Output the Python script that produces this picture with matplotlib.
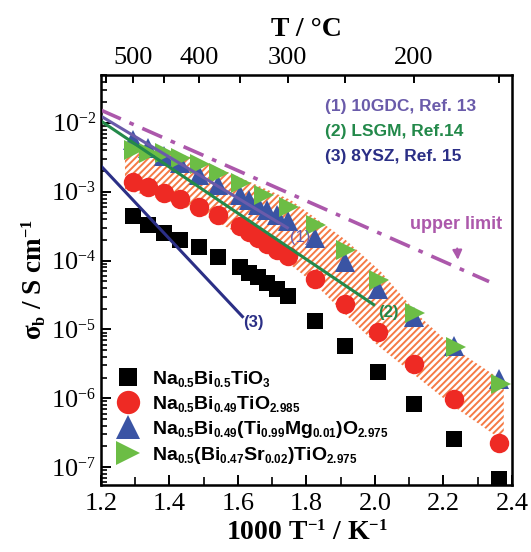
import numpy as np
import matplotlib
matplotlib.use('Agg')
import matplotlib.pyplot as plt
try:
    import matplotlib._mathtext as _mt
    _mt.SHRINK_FACTOR = 0.6
except Exception:
    pass

plt.rcParams['font.family'] = ['Liberation Serif', 'DejaVu Serif']
plt.rcParams['mathtext.fontset'] = 'custom'
plt.rcParams['mathtext.rm'] = 'Liberation Serif'
plt.rcParams['mathtext.bf'] = 'Liberation Serif:bold'
plt.rcParams['mathtext.it'] = 'Liberation Serif:italic'
plt.rcParams['mathtext.sf'] = 'Liberation Sans:bold'
plt.rcParams['hatch.linewidth'] = 1.4
plt.rcParams['axes.unicode_minus'] = False

# ---------------- data ----------------
x_common = [1.293, 1.336, 1.383, 1.432, 1.486, 1.543, 1.605, 1.631, 1.658,
            1.686, 1.715, 1.745, 1.824, 1.911, 2.008, 2.113, 2.231, 2.363]
sig_nbt = [4.49e-4, 3.33e-4, 2.55e-4, 2.01e-4, 1.60e-4, 1.14e-4, 8.2e-5, 6.7e-5,
           5.7e-5, 4.8e-5, 3.93e-5, 3.11e-5, 1.31e-5, 5.7e-6, 2.38e-6, 8.2e-7,
           2.55e-7, 6.7e-8]
sig_nb49 = [1.40e-3, 1.18e-3, 9.7e-4, 7.9e-4, 6.07e-4, 4.64e-4, 3.21e-4, 2.63e-4,
            2.15e-4, 1.76e-4, 1.44e-4, 1.18e-4, 5.48e-5, 2.38e-5, 9.35e-6, 3.11e-6,
            9.7e-7, 2.23e-7]
sig_mg = [5.67e-3, 4.35e-3, 3.33e-3, 2.63e-3, 1.76e-3, 1.26e-3, 9.05e-4, 7.66e-4,
          6.48e-4, 5.48e-4, 4.64e-4, 3.80e-4, 2.15e-4, 9.7e-5, 3.93e-5, 1.54e-5,
          5.68e-6, 1.88e-6]
x_sr = [1.296, 1.339, 1.386, 1.435, 1.489, 1.546, 1.608, 1.675, 1.748, 1.827,
        1.914, 2.011, 2.116, 2.236, 2.368]
sig_sr = [4.06e-3, 3.67e-3, 3.67e-3, 3.11e-3, 2.55e-3, 1.88e-3, 1.35e-3, 9.05e-4,
          6.07e-4, 3.33e-4, 1.44e-4, 5.3e-5, 1.76e-5, 5.48e-6, 1.60e-6]

# hatched band
band_up_x = [1.270, 1.387, 1.490, 1.607, 1.753, 1.914, 2.017, 2.134, 2.236, 2.376]
band_up_y = [4.35e-3, 4.06e-3, 2.91e-3, 1.60e-3, 7.66e-4, 2.01e-4, 6.93e-5, 1.49e-5,
             5.13e-6, 1.76e-6]
band_lo_x = [1.270, 1.387, 1.490, 1.607, 1.753, 1.826, 1.914, 2.008, 2.113, 2.233, 2.376]
band_lo_y = [1.07e-3, 7.66e-4, 4.97e-4, 2.38e-4, 8.75e-5, 4.49e-5, 1.65e-5, 5.86e-6,
             2.23e-6, 7.41e-7, 2.38e-7]

# reference lines (start/end)
upper_x = [1.2, 2.333]
upper_y = [1.54e-2, 4.97e-5]
gdc_x = [1.2, 1.744]
gdc_y = [1.26e-2, 3.01e-4]
lsgm_x = [1.2, 1.996]
lsgm_y = [1.07e-2, 2.30e-5]
ysz_x = [1.2, 1.613]
ysz_y = [2.38e-3, 1.54e-5]

top_ticks_major_C = [500, 400, 300, 200]
top_ticks_minor_C = [550, 450, 350, 250, 150]
top_labels = ['500', '400', '300', '200']

labels = [r'$\mathsf{Na_{0.5}Bi_{0.5}TiO_3}$',
          r'$\mathsf{Na_{0.5}Bi_{0.49}TiO_{2.985}}$',
          r'$\mathsf{Na_{0.5}Bi_{0.49}(Ti_{0.99}Mg_{0.01})O_{2.975}}$',
          r'$\mathsf{Na_{0.5}(Bi_{0.47}Sr_{0.02})TiO_{2.975}}$']

# ---------------- colours ----------------
c_red = '#EE2A24'
c_blue = '#3A54A4'
c_green = '#6CBD45'
c_gdc = '#6A5BAA'
c_lsgm = '#23894A'
c_ysz = '#2B2F86'
c_purple = '#AC58AB'
c_orange = '#F57A45'

fig = plt.figure(figsize=(5.31, 5.52), dpi=100)
ax = fig.add_axes([0.1902, 0.1214, 0.7740, 0.7428])

# band
poly_x = list(band_up_x) + list(band_lo_x[::-1])
poly_y = list(band_up_y) + list(band_lo_y[::-1])
ax.fill(poly_x, poly_y, facecolor='none', edgecolor=c_orange, hatch='/////',
        linewidth=0, zorder=1)

# markers
ax.plot(x_common, sig_nbt, 's', color='black', ms=11, mew=0, zorder=3, label=labels[0])
ax.plot(x_common, sig_nb49, 'o', color=c_red, ms=14, mew=0, zorder=3, label=labels[1])
ax.plot(x_common, sig_mg, '^', color=c_blue, ms=14, mew=0, zorder=3, label=labels[2])
ax.plot(x_sr, sig_sr, '>', color=c_green, ms=14, mew=0, zorder=3.1, label=labels[3])

# reference lines
ax.plot(upper_x, upper_y, color=c_purple, lw=2.6, dashes=(6, 2.6, 1.3, 2.6), zorder=4)
ax.plot(gdc_x, gdc_y, color=c_gdc, lw=2.2, zorder=4)
ax.plot(lsgm_x, lsgm_y, color=c_lsgm, lw=2.2, zorder=4)
ax.plot(ysz_x, ysz_y, color=c_ysz, lw=2.2, zorder=4)

ax.text(1.782, 2.15e-4, '(1)', color=c_gdc, fontsize=12, family='Liberation Sans',
        ha='center', va='center', zorder=5)
ax.text(2.040, 1.76e-5, '(2)', color=c_lsgm, fontsize=12, family='Liberation Sans',
        fontweight='bold', ha='center', va='center', zorder=5)
ax.text(1.645, 1.26e-5, '(3)', color=c_ysz, fontsize=12, family='Liberation Sans',
        fontweight='bold', ha='center', va='center', zorder=5)

ax.annotate('upper limit', xy=(2.242, 1.03e-4), xytext=(2.236, 3.33e-4),
            color=c_purple, fontsize=13, family='Liberation Sans', fontweight='bold',
            ha='center', va='center',
            arrowprops=dict(arrowstyle='-|>', color=c_purple, lw=1.5,
                            mutation_scale=14, shrinkA=9, shrinkB=0))

ref_text = [('(1) 10GDC, Ref. 13', c_gdc, 0.922),
            ('(2) LSGM, Ref.14', c_lsgm, 0.861),
            ('(3) 8YSZ, Ref. 15', c_ysz, 0.800)]
for t, c, yy in ref_text:
    ax.text(0.546, yy, t, color=c, transform=ax.transAxes, fontsize=12.5,
            family='Liberation Sans', fontweight='bold', ha='left', va='center')

ax.set_yscale('log')
ax.set_xlim(1.2, 2.4)
ax.set_ylim(5.5e-8, 5.0e-2)
ax.set_xticks([1.2, 1.4, 1.6, 1.8, 2.0, 2.2, 2.4])
ax.set_xticks(np.arange(1.3, 2.4, 0.2), minor=True)
ax.set_xticklabels(['1.2', '1.4', '1.6', '1.8', '2.0', '2.2', '2.4'])
ax.tick_params(axis='both', which='major', direction='in', length=7, width=1.4,
               labelsize=19, top=False, right=False)
ax.tick_params(axis='both', which='minor', direction='in', length=4, width=1.2,
               top=False, right=False)
ax.tick_params(axis='x', which='minor', length=6)
ax.tick_params(axis='x', pad=6)
for s in ax.spines.values():
    s.set_linewidth(1.8)

ax.set_xlabel(r'1000 T$^{\mathbf{-1}}$ / K$^{\mathbf{-1}}$', fontsize=20,
              fontweight='bold', labelpad=4)
ax.set_ylabel(r'σ$_{\mathbf{b}}$ / S cm$^{\mathbf{-1}}$', fontsize=19.5,
              fontweight='bold', labelpad=2)

ax2 = ax.twiny()
ax2.set_xlim(ax.get_xlim())
ax2.set_xticks([1000.0 / (t + 273.15) for t in top_ticks_major_C])
ax2.set_xticklabels(top_labels)
ax2.set_xticks([1000.0 / (t + 273.15) for t in top_ticks_minor_C], minor=True)
ax2.tick_params(axis='x', which='both', direction='in', length=6, width=1.4,
                labelsize=19, pad=4)
ax2.set_xlabel('T / °C', fontsize=20, fontweight='bold', labelpad=8)

leg = ax.legend(loc='upper left', bbox_to_anchor=(0.0, 0.325), frameon=False,
                fontsize=14, markerscale=1.2, handlelength=1.0,
                handletextpad=0.7, labelspacing=0.25, borderaxespad=0.5)

fig.savefig('out.png', dpi=100)
